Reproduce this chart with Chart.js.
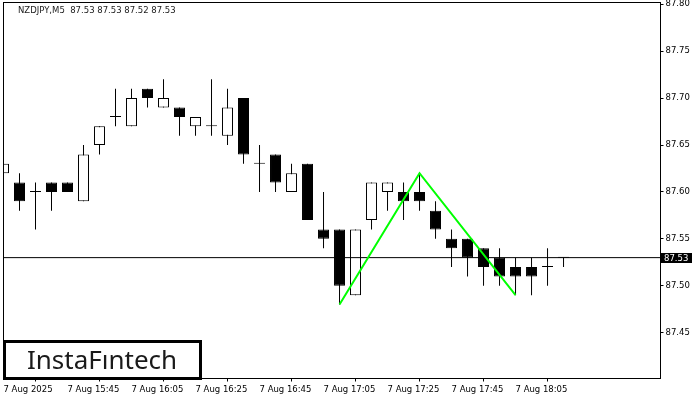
<!DOCTYPE html>
<html><head><meta charset="utf-8">
<script src="https://cdn.jsdelivr.net/npm/chart.js@4.4.1/dist/chart.umd.min.js"></script>
<style>html,body{margin:0;padding:0;background:#fff;}#wrap{width:700px;height:400px;position:relative;}</style>
</head><body><div id="wrap"><canvas id="c" width="700" height="400"></canvas></div>
<script>
const times = ["15:25","15:30","15:35","15:40","15:45","15:50","15:55","16:00","16:05","16:10","16:15","16:20","16:25","16:30","16:35","16:40","16:45","16:50","16:55","17:00","17:05","17:10","17:15","17:20","17:25","17:30","17:35","17:40","17:45","17:50","17:55","18:00","18:05","18:10","18:15","18:20"];
const openV  = [87.62,87.61,87.60,87.61,87.61,87.59,87.65,87.68,87.67,87.71,87.69,87.69,87.67,87.67,87.66,87.70,87.63,87.64,87.60,87.63,87.56,87.56,87.49,87.57,87.60,87.60,87.60,87.58,87.55,87.55,87.54,87.53,87.52,87.52,87.52,87.53];
const highV  = [87.65,87.62,87.61,87.61,87.61,87.65,87.67,87.71,87.71,87.71,87.72,87.69,87.68,87.72,87.71,87.70,87.65,87.64,87.63,87.63,87.60,87.56,87.56,87.61,87.61,87.61,87.62,87.59,87.56,87.55,87.54,87.54,87.53,87.53,87.54,87.53];
const lowV   = [87.62,87.58,87.56,87.58,87.60,87.59,87.64,87.67,87.67,87.69,87.69,87.66,87.66,87.66,87.65,87.63,87.60,87.60,87.60,87.57,87.54,87.48,87.49,87.56,87.58,87.57,87.58,87.55,87.52,87.51,87.50,87.50,87.49,87.49,87.50,87.52];
const closeV = [87.63,87.59,87.60,87.60,87.60,87.64,87.67,87.68,87.70,87.70,87.70,87.68,87.68,87.67,87.69,87.64,87.63,87.61,87.62,87.57,87.55,87.50,87.56,87.61,87.61,87.59,87.59,87.56,87.54,87.53,87.52,87.51,87.51,87.51,87.52,87.53];
const xTickIdx = [0,4,8,12,16,20,24,28,32];
const xTickLabels = ["7 Aug 2025","7 Aug 15:45","7 Aug 16:05","7 Aug 16:25","7 Aug 16:45","7 Aug 17:05","7 Aug 17:25","7 Aug 17:45","7 Aug 18:05"];
const yTicks = [87.45,87.50,87.55,87.60,87.65,87.70,87.75,87.80];
const patternIdx = [21,26,32];
const patternVal = [87.48,87.62,87.49];
const lastPrice = 87.53;
const titleText = "NZDJPY,M5  87.53 87.53 87.52 87.53";
const logoText = "InstaFıntech";

const X_MIN = 0, X_MAX = 41.06, Y_MIN = 87.4012, Y_MAX = 87.8019;
const FONT = '"DejaVu Sans", sans-serif';
const FSIZE = 8.5;

const overlay = {
  id: 'overlay',
  afterDraw(chart) {
    const ctx = chart.ctx, a = chart.chartArea, ys = chart.scales.y;
    ctx.save();
    ctx.strokeStyle = '#000'; ctx.lineWidth = 1;
    ctx.strokeRect(a.left, a.top, a.right - a.left, a.bottom - a.top);
    // title
    ctx.fillStyle = '#1a1a1a';
    ctx.font = FSIZE + 'px ' + FONT;
    ctx.textBaseline = 'middle'; ctx.textAlign = 'left';
    ctx.fillText(titleText, 18, 11);
    // last price box
    const py = Math.round(ys.getPixelForValue(lastPrice));
    ctx.fillStyle = '#000';
    ctx.fillRect(661, py - 5, 31, 10);
    ctx.fillStyle = '#fff';
    ctx.fillText(lastPrice.toFixed(2), 664, py + 0.5);
    // logo
    ctx.fillStyle = '#fff';
    ctx.fillRect(4, 341, 197, 37);
    ctx.strokeStyle = '#000'; ctx.lineWidth = 3;
    ctx.strokeRect(4.5, 341.5, 196, 37);
    ctx.fillStyle = '#1a1a1a';
    ctx.font = '26px "Noto Sans", sans-serif';
    ctx.textAlign = 'center'; ctx.textBaseline = 'alphabetic';
    ctx.fillText(logoText, 102, 368.5);
    ctx.restore();
  }
};

new Chart(document.getElementById('c'), {
  type: 'bar',
  data: {
    datasets: [
      { type: 'line', data: patternIdx.map((x, i) => ({x, y: patternVal[i]})), borderColor: '#00ff00', borderWidth: 2, pointRadius: 0, order: 0 },
      { type: 'line', data: [{x: X_MIN, y: lastPrice}, {x: X_MAX, y: lastPrice}], borderColor: '#000', borderWidth: 1, pointRadius: 0, order: 1 },
      { type: 'bar', data: times.map((t, i) => ({x: i, y: [openV[i], closeV[i]]})),
        backgroundColor: c => closeV[c.dataIndex] > openV[c.dataIndex] ? '#fff' : '#000',
        borderColor: '#000', borderWidth: 1, borderSkipped: false, grouped: false,
        barThickness: 11, maxBarThickness: 11, minBarLength: 1, inflateAmount: 0, order: 2 },
      { type: 'bar', data: times.map((t, i) => ({x: i, y: [lowV[i], highV[i]]})),
        backgroundColor: '#000', borderWidth: 0, grouped: false,
        barThickness: 1, maxBarThickness: 1, inflateAmount: 0, order: 3 }
    ]
  },
  options: {
    responsive: false, animation: false, devicePixelRatio: 1,
    layout: { padding: { left: 3.5, top: 2.5, right: 0, bottom: 0 } },
    plugins: { legend: { display: false }, tooltip: { enabled: false } },
    scales: {
      x: {
        type: 'linear', position: 'bottom', min: X_MIN, max: X_MAX, offset: false,
        grid: { drawOnChartArea: false, drawTicks: true, tickLength: 3, color: '#000' },
        border: { display: false },
        afterBuildTicks: s => { s.ticks = xTickIdx.map(v => ({value: v})); },
        afterFit: s => { s.height = 21.5; s.paddingLeft = 0; s.paddingRight = 0; },
        ticks: { align: 'start', padding: 3, color: '#000', maxRotation: 0, autoSkip: false,
          font: { family: FONT, size: FSIZE },
          callback: v => { const k = xTickIdx.indexOf(v); return k >= 0 ? xTickLabels[k] : ''; } }
      },
      y: {
        type: 'linear', position: 'right', min: Y_MIN, max: Y_MAX,
        grid: { drawOnChartArea: false, drawTicks: true, tickLength: 3, color: '#000' },
        border: { display: false },
        afterBuildTicks: s => { s.ticks = yTicks.map(v => ({value: v})); },
        afterFit: s => { s.width = 39.5; s.paddingTop = 0; s.paddingBottom = 0; },
        ticks: { padding: 2, color: '#000', font: { family: FONT, size: FSIZE },
          callback: v => Number(v).toFixed(2) }
      }
    }
  },
  plugins: [overlay]
});
</script></body></html>
